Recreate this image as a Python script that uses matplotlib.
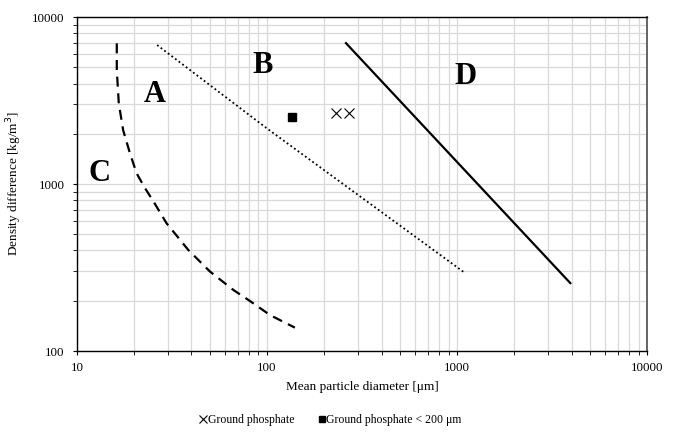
import numpy as np
import matplotlib.pyplot as plt

plt.rcParams['font.family'] = ['Liberation Serif', 'DejaVu Serif']

# boundary C/A (dashed)
ca_d = [16.2, 16.2, 16.6, 17.5, 19.0, 20.6, 22.8, 25.2, 29.6, 38.5, 50.1, 66.5, 81.4, 103.8, 140]
ca_rho = [6960, 4820, 3040, 2100, 1528, 1159, 945, 790, 582, 403, 299, 232, 199, 164, 138]

# boundary A/B (dotted)
ab_d = [26.4, 100, 1100]
ab_rho = [6800, 2150, 293]

# boundary B/D (solid)
bd_d = [260, 3935]
bd_rho = [6980, 255]

# measured powders
gp_d = [231, 270]
gp_rho = [2660, 2660]
gp200_d = [135]
gp200_rho = [2518]

fig = plt.figure(figsize=(6.75, 4.32), dpi=100)
ax = fig.add_axes([0.114, 0.1875, 0.845, 0.773])

ax.plot(ca_d, ca_rho, color='black', linestyle=(0, (4.5, 3)), linewidth=1.6)
ax.plot(ab_d, ab_rho, color='black', linestyle=(0, (1, 1.5)), linewidth=1.3)
ax.plot(bd_d, bd_rho, color='black', linestyle='-', linewidth=1.6)

ax.plot(gp_d, gp_rho, linestyle='none', marker='x', markersize=7,
        markeredgewidth=0.8, color='black', label='Ground phosphate')
ax.plot(gp200_d, gp200_rho, linestyle='none', marker='s', markersize=5.5,
        color='black', label='Ground phosphate < 200 μm')

ax.set_xscale('log')
ax.set_yscale('log')
ax.set_xlim(10, 10000)
ax.set_ylim(100, 10000)

ax.grid(True, which='both', color='#d9d9d9', linewidth=0.9)
ax.set_axisbelow(True)

ax.xaxis.set_major_formatter(plt.FuncFormatter(lambda v, p: '%d' % v))
ax.yaxis.set_major_formatter(plt.FuncFormatter(lambda v, p: '%d' % v))
ax.xaxis.set_minor_formatter(plt.NullFormatter())
ax.yaxis.set_minor_formatter(plt.NullFormatter())
ax.tick_params(which='both', direction='out', labelsize=9.3, color='black')
ax.tick_params(which='major', length=3, pad=6)
ax.tick_params(which='minor', length=3)
ax.tick_params(axis='x', which='major', pad=5)

for s in ['left', 'bottom', 'top']:
    ax.spines[s].set_color('black')
    ax.spines[s].set_linewidth(1.0)
ax.spines['right'].set_color('#595959')
ax.spines['right'].set_linewidth(1.3)

ax.set_xlabel('Mean particle diameter [μm]', fontsize=9.5, labelpad=5)
ax.set_ylabel('Density difference [kg/m$^3$]', fontsize=9.5, labelpad=6)

lab = dict(fontsize=22, fontweight='bold', ha='center', va='center')
ax.text(25.8, 3450, 'A', **lab)
ax.text(95, 5100, 'B', **lab)
ax.text(13.2, 1160, 'C', **lab)
ax.text(1100, 4400, 'D', **lab)

fig.legend(loc='lower center', bbox_to_anchor=(0.49, -0.01), ncol=2, frameon=False,
           fontsize=8.5, handlelength=0.6, handletextpad=0.1, columnspacing=2.0,
           markerscale=0.85)

fig.savefig('out.png', dpi=100)
